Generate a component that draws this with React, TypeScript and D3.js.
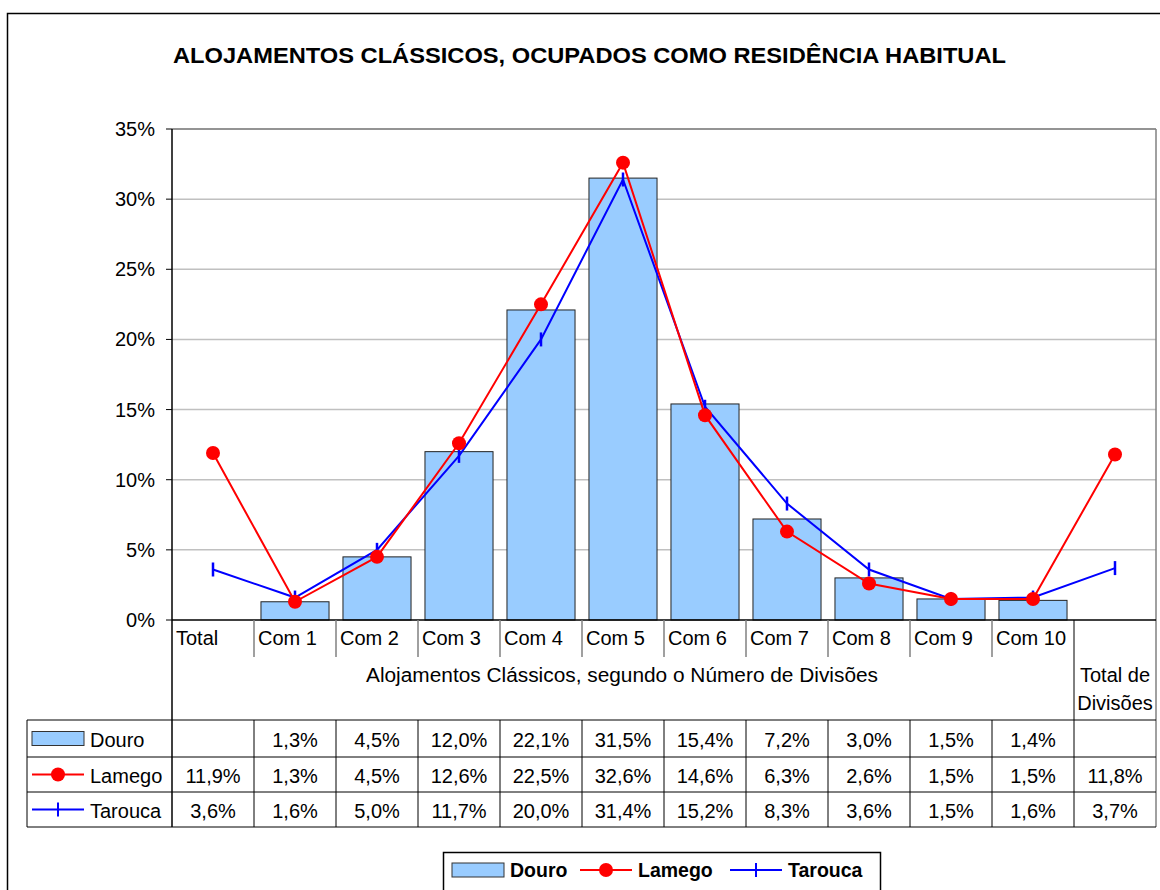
import React from "react";
import * as d3 from "d3";

const categories = ["Total", "Com 1", "Com 2", "Com 3", "Com 4", "Com 5", "Com 6", "Com 7", "Com 8", "Com 9", "Com 10", "Total de Divisões"];
const douro: (number | null)[] = [null, 1.3, 4.5, 12.0, 22.1, 31.5, 15.4, 7.2, 3.0, 1.5, 1.4, null];
const lamego: (number | null)[] = [11.9, 1.3, 4.5, 12.6, 22.5, 32.6, 14.6, 6.3, 2.6, 1.5, 1.5, 11.8];
const tarouca: (number | null)[] = [3.6, 1.6, 5.0, 11.7, 20.0, 31.4, 15.2, 8.3, 3.6, 1.5, 1.6, 3.7];
const yTicks = [0, 5, 10, 15, 20, 25, 30, 35];
const seriesNames = ["Douro", "Lamego", "Tarouca"];
const title = "ALOJAMENTOS CLÁSSICOS, OCUPADOS COMO RESIDÊNCIA HABITUAL";
const axisTitle = "Alojamentos Clássicos, segundo o Número de Divisões";

const FONT = "'Liberation Sans', Arial, sans-serif";
const BAR_FILL = "#99CCFF";
const RED = "#FF0000";
const BLUE = "#0000FF";

export default function App() {
  const left = 172, right = 1156, top = 129, bottom = 620;
  const x = d3.scaleBand<string>().domain(categories).range([left, right]).padding(0);
  const y = d3.scaleLinear().domain([0, 35]).range([bottom, top]);
  const bw = x.bandwidth();
  const cx = (c: string) => (x(c) as number) + bw / 2;
  const fmt = (v: number | null) => (v == null ? "" : v.toFixed(1).replace(".", ",") + "%");

  const lineGen = d3
    .line<[string, number | null]>()
    .defined((d) => d[1] != null)
    .x((d) => cx(d[0]))
    .y((d) => y(d[1] as number));

  const rowTops = [720, 757, 792, 827];
  const tableLeft = 27;
  const fs = 20;

  const lamegoPts = categories.map((c, i) => [c, lamego[i]] as [string, number | null]);
  const tarPts = categories.map((c, i) => [c, tarouca[i]] as [string, number | null]);

  const legendKey = (s: string, kx: number, ky: number, w: number) => {
    if (s === "Douro")
      return <rect x={kx} y={ky - 7} width={w} height={14} fill={BAR_FILL} stroke="#333" strokeWidth={1} />;
    if (s === "Lamego")
      return (
        <g>
          <line x1={kx} x2={kx + w} y1={ky} y2={ky} stroke={RED} strokeWidth={2} />
          <circle cx={kx + w / 2} cy={ky} r={7} fill={RED} />
        </g>
      );
    return (
      <g>
        <line x1={kx} x2={kx + w} y1={ky} y2={ky} stroke={BLUE} strokeWidth={2} />
        <line x1={kx + w / 2} x2={kx + w / 2} y1={ky - 7} y2={ky + 7} stroke={BLUE} strokeWidth={2} />
      </g>
    );
  };

  const seriesVals = [douro, lamego, tarouca];

  return (
    <svg width={1160} height={890} style={{ position: "absolute", left: 0, top: 0, fontFamily: FONT }}>
      <rect x={0} y={0} width={1160} height={890} fill="#fff" />
      <rect x={7.5} y={13.5} width={1200} height={1000} fill="none" stroke="#000" strokeWidth={1.5} />
      <text x={173} y={63} fontSize={22.5} fontWeight="bold" textLength={833} lengthAdjust="spacingAndGlyphs">
        {title}
      </text>

      {/* gridlines */}
      {yTicks.filter((t) => t > 0).map((t) => (
        <line key={t} x1={left} x2={right} y1={y(t)} y2={y(t)} stroke="#c0c0c0" strokeWidth={1.5} />
      ))}
      {/* plot border top/right */}
      <line x1={left} x2={right} y1={top} y2={top} stroke="#808080" strokeWidth={1.5} />
      <line x1={right} x2={right} y1={top} y2={rowTops[3]} stroke="#808080" strokeWidth={1.5} />

      {/* y axis ticks */}
      {yTicks.map((t) => (
        <g key={t}>
          <line x1={left - 6} x2={left} y1={y(t)} y2={y(t)} stroke="#000" strokeWidth={1} />
          <text x={155} y={y(t) + 7} fontSize={fs} textAnchor="end">
            {t}%
          </text>
        </g>
      ))}

      {/* bars */}
      {categories.map((c, i) =>
        douro[i] == null ? null : (
          <rect
            key={c}
            x={(x(c) as number) + bw * 0.085}
            y={y(douro[i] as number)}
            width={bw * 0.83}
            height={bottom - y(douro[i] as number)}
            fill={BAR_FILL}
            stroke="#222"
            strokeWidth={1}
          />
        )
      )}

      {/* lines */}
      <path d={lineGen(tarPts) || ""} fill="none" stroke={BLUE} strokeWidth={2} />
      {tarPts.map((d) =>
        d[1] == null ? null : (
          <line key={d[0]} x1={cx(d[0])} x2={cx(d[0])} y1={y(d[1]) - 7} y2={y(d[1]) + 7} stroke={BLUE} strokeWidth={2.5} />
        )
      )}
      <path d={lineGen(lamegoPts) || ""} fill="none" stroke={RED} strokeWidth={2} />
      {lamegoPts.map((d) => (d[1] == null ? null : <circle key={d[0]} cx={cx(d[0])} cy={y(d[1])} r={7} fill={RED} />))}

      {/* axes */}
      <line x1={left} x2={left} y1={top} y2={rowTops[3]} stroke="#000" strokeWidth={1.5} />
      <line x1={left} x2={right} y1={bottom} y2={bottom} stroke="#000" strokeWidth={1.5} />

      {/* category labels */}
      {categories.slice(0, 11).map((c, i) => (
        <g key={c}>
          {i > 0 && <line x1={x(c)} x2={x(c)} y1={bottom} y2={657} stroke="#808080" strokeWidth={1.5} />}
          <text x={(x(c) as number) + 4} y={645} fontSize={fs}>
            {c}
          </text>
        </g>
      ))}
      <text
        x={366}
        y={682}
        fontSize={fs}
        textLength={512}
        lengthAdjust="spacingAndGlyphs"
      >
        {axisTitle}
      </text>
      <line x1={x(categories[11])} x2={x(categories[11])} y1={bottom} y2={rowTops[3]} stroke="#000" strokeWidth={1} />
      <text x={cx(categories[11])} y={682} fontSize={fs} textAnchor="middle">
        Total de
      </text>
      <text x={cx(categories[11])} y={710} fontSize={fs} textAnchor="middle">
        Divisões
      </text>

      {/* data table */}
      {rowTops.map((ry) => (
        <line key={ry} x1={tableLeft} x2={right} y1={ry} y2={ry} stroke="#000" strokeWidth={1} />
      ))}
      <line x1={tableLeft} x2={tableLeft} y1={rowTops[0]} y2={rowTops[3]} stroke="#000" strokeWidth={1} />
      {categories.slice(1, 11).map((c) => (
        <line key={c} x1={x(c)} x2={x(c)} y1={rowTops[0]} y2={rowTops[3]} stroke="#000" strokeWidth={1} />
      ))}
      {seriesNames.map((s, r) => {
        const my = (rowTops[r] + rowTops[r + 1]) / 2;
        return (
          <g key={s}>
            {legendKey(s, 32, my, 52)}
            <text x={90} y={my + 8} fontSize={fs}>
              {s}
            </text>
            {categories.map((c, i) => (
              <text key={c} x={cx(c)} y={my + 8} fontSize={fs} textAnchor="middle">
                {fmt(seriesVals[r][i])}
              </text>
            ))}
          </g>
        );
      })}

      {/* legend */}
      <rect x={443.5} y={852.5} width={437} height={60} fill="#fff" stroke="#000" strokeWidth={1.5} />
      {seriesNames.map((s, i) => {
        const kx = [452, 580, 730][i];
        return (
          <g key={s}>
            {legendKey(s, kx, 870, 52)}
            <text x={kx + 58} y={877} fontSize={19.5} fontWeight="bold">
              {s}
            </text>
          </g>
        );
      })}
    </svg>
  );
}
